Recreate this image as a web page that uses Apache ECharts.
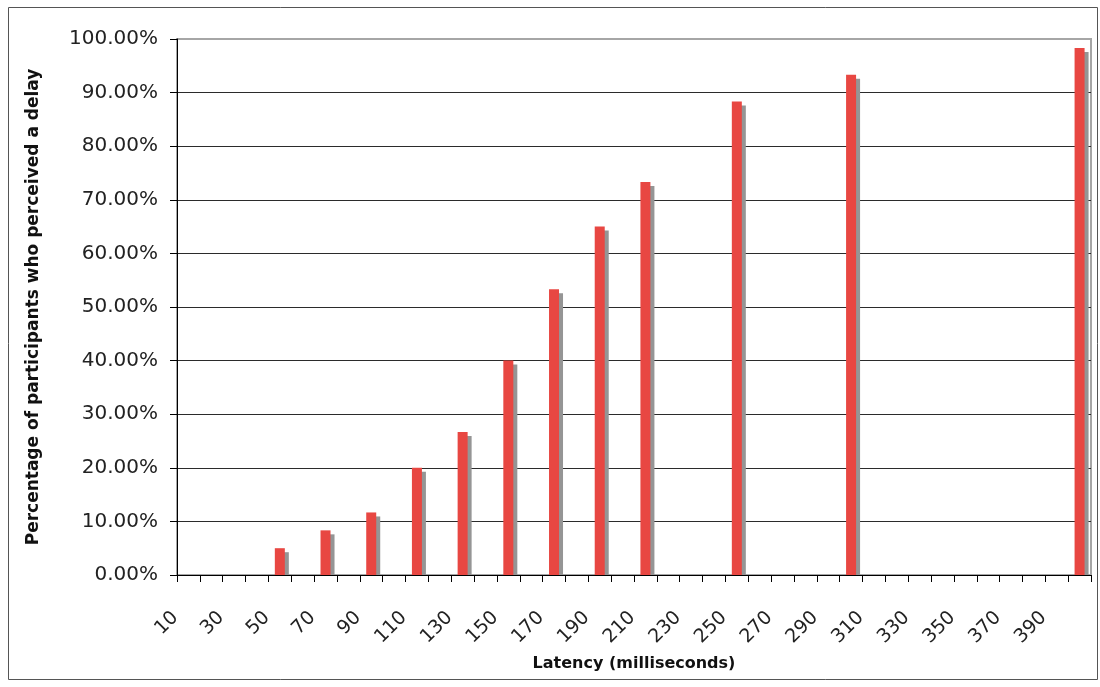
<!DOCTYPE html>
<html>
<head>
<meta charset="utf-8">
<script src="https://cdn.jsdelivr.net/npm/echarts@6/dist/echarts.min.js"></script>
<style>html,body{margin:0;padding:0;background:#fff}#chart{width:1100px;height:687px}</style>
</head>
<body>
<div id="chart"></div>
<script>
// Latency categories (milliseconds), one per slot
const latencyCategories = ['10','20','30','40','50','60','70','80','90','100',
  '110','120','130','140','150','160','170','180','190','200',
  '210','220','230','240','250','260','270','280','290','300',
  '310','320','330','340','350','360','370','380','390','400'];
// Percentage of participants who perceived a delay
const perceivedPct = [0,0,0,0,5.0,0,8.33,0,11.67,0,
  20.0,0,26.67,0,40.0,0,53.33,0,65.0,0,
  73.33,0,0,0,88.33,0,0,0,0,93.33,
  0,0,0,0,0,0,0,0,0,98.33];
const yTicks = [0,10,20,30,40,50,60,70,80,90,100];
const xTitle = 'Latency (milliseconds)';
const yTitle = 'Percentage of participants who perceived a delay';

const chart = echarts.init(document.getElementById('chart'), null, {renderer:'canvas'});
const FONT = '"DejaVu Sans", Verdana, sans-serif';
const shadowData = perceivedPct.map((v, i) => [i, v]);
const gridColors = yTicks.map((t, i) => i === yTicks.length - 1 ? '#a6a6a6' : '#2b2b2b');

chart.setOption({
  animation: false,
  backgroundColor: '#ffffff',
  graphic: [{
    type: 'rect', silent: true,
    shape: {x: 8.5, y: 7.5, width: 1089, height: 672},
    style: {fill: 'none', stroke: '#555', lineWidth: 1}
  }],
  grid: {left: 177, right: 9, top: 39, bottom: 112, show: true, containLabel: false,
    outerBoundsMode: 'none',
    borderColor: '#a6a6a6', borderWidth: 2, backgroundColor: 'transparent'},
  xAxis: {
    type: 'category', data: latencyCategories, boundaryGap: true,
    name: xTitle, nameLocation: 'middle', nameGap: 81,
    nameTextStyle: {fontFamily: FONT, fontWeight: 'bold', fontSize: 16, color: '#111'},
    axisLine: {lineStyle: {color: '#000', width: 1}},
    axisTick: {show: true, interval: 0, length: 7, lineStyle: {color: '#000'}},
    axisLabel: {interval: 0, rotate: 45, fontFamily: FONT, fontSize: 19, color: '#222',
      margin: 40, verticalAlign: 'bottom', align: 'right', hideOverlap: false,
      formatter: (v, i) => (i % 2 === 0 ? '{t|' + v + '}' : ''),
      rich: {t: {fontFamily: FONT, fontSize: 19, color: '#222', padding: [0, 9, 0, 0]}}},
    splitLine: {show: false}
  },
  yAxis: {
    type: 'value', min: 0, max: 100, interval: 10,
    name: yTitle, nameLocation: 'middle', nameGap: 135,
    nameTextStyle: {fontFamily: FONT, fontWeight: 'bold', fontSize: 17, color: '#111'},
    axisLine: {show: true, lineStyle: {color: '#000', width: 1}},
    axisTick: {show: true, length: 7, lineStyle: {color: '#000'}},
    axisLabel: {margin: 19, fontFamily: FONT, fontSize: 20, color: '#222',
      formatter: v => v.toFixed(2) + '%'},
    splitLine: {show: true, lineStyle: {color: gridColors, width: 1}}
  },
  series: [{
    type: 'custom', name: 'shadow', z: 1,
    data: shadowData,
    encode: {x: 0, y: 1},
    renderItem: function (params, api) {
      const v = api.value(1);
      if (!v) return null;
      const top = api.coord([api.value(0), v]);
      const base = api.coord([api.value(0), 0]);
      return {type: 'rect',
        shape: {x: top[0] - 1, y: top[1] + 4, width: 10, height: base[1] - top[1] - 4},
        style: {fill: '#959595'}};
    }
  }, {
    type: 'bar', name: 'Perceived', z: 2,
    data: perceivedPct, barWidth: 10,
    itemStyle: {color: '#e84742'}
  }]
});
</script>
</body>
</html>
